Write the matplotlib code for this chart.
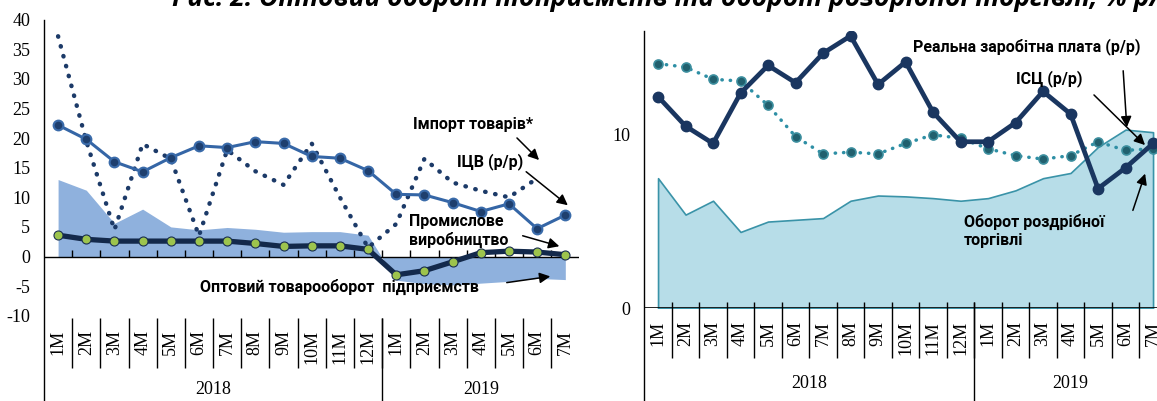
import numpy as np
import matplotlib
matplotlib.use('Agg')
import matplotlib.pyplot as plt

plt.rcParams['axes.unicode_minus'] = False

W, H = 1157, 401

months = ['1M', '2M', '3M', '4M', '5M', '6M', '7M', '8M', '9M', '10M', '11M', '12M',
          '1M', '2M', '3M', '4M', '5M', '6M', '7M']
years = ['2018', '2019']

# ліва панель
icv = [22.2, 19.8, 16.0, 14.3, 16.7, 18.7, 18.4, 19.4, 19.1, 16.9, 16.6, 14.5,
       10.5, 10.4, 9.1, 7.6, 8.9, 4.7, 7.0]
imports = [37.2, 19.5, 4.5, 19.0, 16.5, 3.5, 18.0, 14.4, 12.1, 19.1, 10.0, 1.5,
           5.5, 16.5, 12.5, 11.1, 10.0, 13.2, np.nan]
industry = [13.0, 11.2, 5.6, 8.0, 5.0, 4.5, 4.9, 4.6, 4.1, 4.2, 4.2, 3.6,
            -4.0, -4.6, -4.8, -4.5, -4.2, -3.7, -3.9]
wholesale = [3.6, 2.9, 2.6, 2.6, 2.6, 2.6, 2.6, 2.2, 1.7, 1.8, 1.8, 1.2,
             -3.1, -2.4, -0.9, 0.65, 0.9, 0.75, 0.3]

# права панель
wage = [12.2, 10.5, 9.5, 12.4, 14.0, 13.0, 14.7, 15.7, 12.9, 14.2, 11.3, 9.6,
        9.6, 10.7, 12.5, 11.2, 6.9, 8.1, 9.5]
cpi = [14.1, 13.9, 13.2, 13.1, 11.7, 9.9, 8.9, 9.0, 8.9, 9.5, 10.0, 9.8,
       9.2, 8.8, 8.6, 8.8, 9.6, 9.1, 9.2]
retail = [7.5, 5.4, 6.2, 4.4, 5.0, 5.1, 5.2, 6.2, 6.5, 6.45, 6.35, 6.2,
          6.35, 6.8, 7.5, 7.8, 9.3, 10.3, 10.15]

SERIF = ['Liberation Serif', 'DejaVu Serif']
SANS = ['Roboto', 'DejaVu Sans']


def rect(left, top, right, bottom):
    return [left / W, 1 - bottom / H, (right - left) / W, (bottom - top) / H]


def ay(ax, ypx):
    pos = ax.get_position()
    return ((1 - ypx / H) - pos.y0) / pos.height


def cat_axis(ax, sep_top, sep_bottom, label_top, year_y):
    tr = ax.get_xaxis_transform()
    n = len(months)
    for i, m in enumerate(months):
        ax.text(i, ay(ax, label_top), m, rotation=90, ha='center', va='top',
                transform=tr, family=SERIF, fontsize=13, clip_on=False)
    bounds = np.arange(0.5, n - 1, 1)
    ax.vlines(bounds, ay(ax, sep_bottom), ay(ax, sep_top), transform=tr,
              colors='black', lw=1, clip_on=False)
    ax.vlines([11.5], ay(ax, H + 2), ay(ax, sep_top), transform=tr,
              colors='black', lw=1, clip_on=False)
    ax.text(5.5, ay(ax, year_y), years[0], ha='center', va='center',
            transform=tr, family=SERIF, fontsize=13, clip_on=False)
    ax.text((11.5 + n - 0.5) / 2, ay(ax, year_y), years[1], ha='center', va='center',
            transform=tr, family=SERIF, fontsize=13, clip_on=False)
    # вісь Y до низу рисунка
    ax.plot([0, 0], [ay(ax, H + 2), 1], transform=ax.transAxes, color='black',
            lw=1, clip_on=False)
    ax.set_xticks([])
    for s in ['top', 'right', 'bottom', 'left']:
        ax.spines[s].set_visible(False)
    ax.tick_params(axis='y', length=0, pad=10)
    for lab in ax.get_yticklabels():
        lab.set_family(SERIF)
        lab.set_fontsize(13)


def arrow(x0, y0, x1, y1):
    fig.add_artist(matplotlib.patches.FancyArrowPatch(
        (x0 / W, 1 - y0 / H), (x1 / W, 1 - y1 / H), transform=fig.transFigure,
        arrowstyle='-|>', mutation_scale=16, color='black', lw=1.1))


def label(x, y, s, ha='left'):
    fig.text(x / W, 1 - y / H, s, ha=ha, va='center', family=SANS,
             fontweight='bold', fontsize=11.5, linespacing=1.2)


fig = plt.figure(figsize=(W / 100, H / 100), dpi=100)
x = np.arange(len(months))

# ---------- ліва панель ----------
ax1 = fig.add_axes(rect(44, 19.7, 579.4, 315.7))
ax1.set_xlim(-0.5, len(months) - 0.5)
ax1.set_ylim(-10, 40)
ax1.set_yticks(range(-10, 41, 5))
ax1.fill_between(x, industry, 0, color='#8FB1DD', lw=0)
ax1.axhline(0, color='black', lw=1)
ax1.vlines(np.arange(0.5, len(months) - 1, 1), 0, 1.1, colors='black', lw=1)
ax1.plot(x, imports, color='#1C3A68', lw=3.2, linestyle=(0, (0.1, 2.2)),
         dash_capstyle='round')
ax1.plot(x, icv, color='#3566A6', lw=2.2, marker='o', ms=7, mfc='#1E3F6E',
         mec='#3A6BAA', mew=1.5)
ax1.plot(x, wholesale, color='#13294B', lw=3.8, marker='o', ms=6.5, mfc='#9DC44D',
         mec='#1A2F4F', mew=0.8)
cat_axis(ax1, 318, 368, 330, 389)

# ---------- права панель ----------
ax2 = fig.add_axes(rect(644.3, 30.7, 1166.8, 308.3))
ax2.set_xlim(-0.5, len(months) - 0.5)
ax2.set_ylim(0, 16)
ax2.set_yticks([0, 10])
ax2.fill_between(x, retail, 0, facecolor='#B7DDE8', edgecolor='#3A93A8', lw=1.2)
ax2.axhline(0, color='black', lw=1.2)
ax2.plot(x, cpi, color='#2E8FA5', lw=2.5, linestyle=(0, (0.1, 2.3)),
         dash_capstyle='round')
ax2.plot(x, cpi, lw=0, marker='o', ms=6.5, mfc='#21606E', mec='#3C8E9E', mew=1.2)
ax2.plot(x, wage, color='#1A3660', lw=3.4, marker='o', ms=7.5, mfc='#1A3660',
         mec='#1A3660')
cat_axis(ax2, 302, 358, 321, 383)

# ---------- підписи ----------
fig.text(172 / W, 1 - 6 / H,
         'Рис. 2. Оптовий оборот підприємств та оборот роздрібної торгівлі, % р/р',
         ha='left', va='baseline', family=['Open Sans', 'DejaVu Sans'],
         fontweight='bold', fontstyle='italic', fontsize=19)

label(413, 125, 'Імпорт товарів*')
arrow(515, 136, 541, 162)
label(457, 162, 'ІЦВ (р/р)')
arrow(524, 170, 570, 207)
label(409, 231, 'Промислове\nвиробництво')
arrow(520, 235, 562, 247)
label(200, 287, 'Оптовий товарооборот  підприємств')
arrow(504, 283, 553, 276)

label(913, 47, 'Реальна заробітна плата (р/р)')
arrow(1123, 68, 1127, 130)
label(1016, 79, 'ІСЦ (р/р)')
arrow(1092, 93, 1147, 147)
label(964, 231, 'Оборот роздрібної\nторгівлі')
arrow(1132, 213, 1146, 171)

fig.savefig('out.png', dpi=100)
